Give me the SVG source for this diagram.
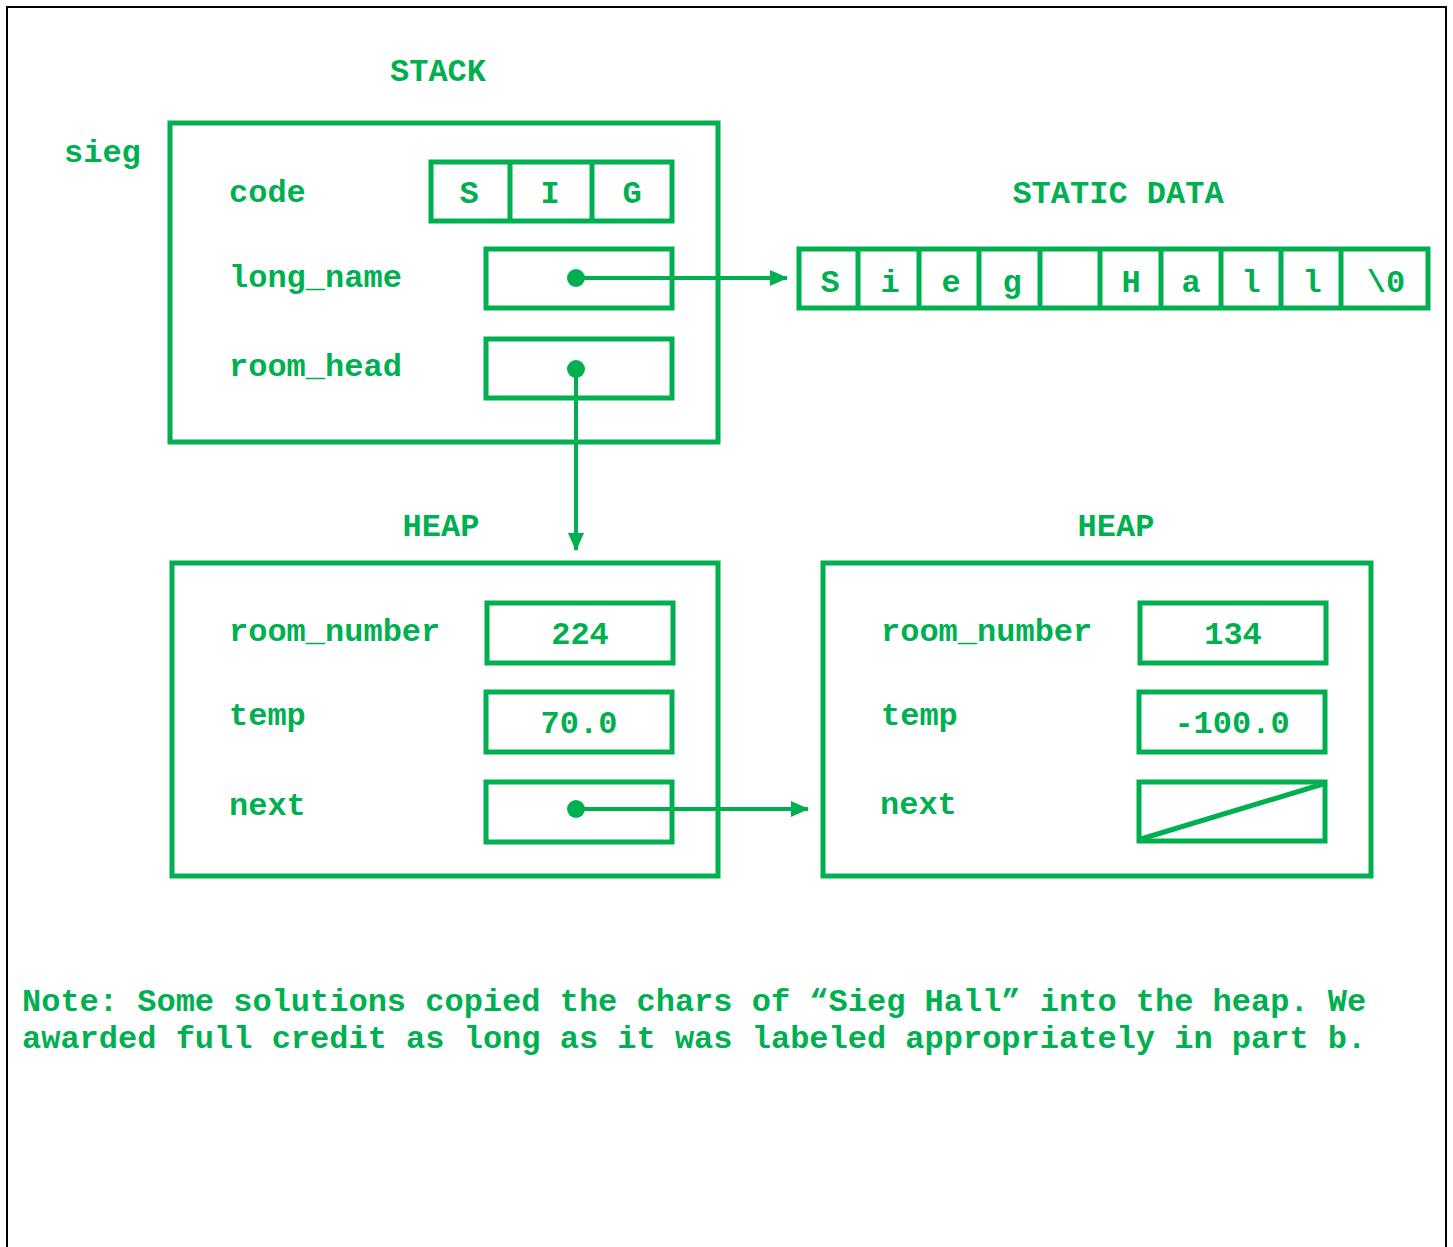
<svg xmlns="http://www.w3.org/2000/svg" width="1453" height="1247" viewBox="0 0 1453 1247">
<style>
text{font-family:"Liberation Mono","Courier New",monospace;font-weight:bold;font-size:32px;fill:#00B050}
.c{text-anchor:middle}
.box{fill:none;stroke:#00B050;stroke-width:5}
.ln{fill:none;stroke:#00B050;stroke-width:4}
</style>
<defs>
<marker id="ah" markerWidth="18" markerHeight="16" refX="17" refY="8" orient="auto" markerUnits="userSpaceOnUse">
<path d="M0,0 L18,8 L0,16 Z" fill="#00B050"/>
</marker>
</defs>
<rect x="0" y="0" width="1453" height="1247" fill="#fff"/>
<rect x="7" y="7" width="1439" height="1260" fill="none" stroke="#000" stroke-width="2"/>

<text class="c" x="438" y="81">STACK</text>
<text x="64" y="162">sieg</text>
<text class="c" x="1118" y="203">STATIC DATA</text>
<text class="c" x="441" y="536">HEAP</text>
<text class="c" x="1116" y="536">HEAP</text>

<g id="stack">
<rect class="box" x="170" y="123" width="548" height="319"/>
<text x="229" y="202">code</text>
<text x="229" y="287">long_name</text>
<text x="229" y="376">room_head</text>
</g>
<g id="code">
<rect class="box" x="431" y="162" width="241" height="59"/>
<line class="box" x1="510" y1="162" x2="510" y2="221"/>
<line class="box" x1="592" y1="162" x2="592" y2="221"/>
<text class="c" x="469" y="203">S</text>
<text class="c" x="550" y="203">I</text>
<text class="c" x="632" y="203">G</text>
</g>
<g id="long_name">
<rect class="box" x="486" y="249" width="186" height="59"/>
</g>
<g id="room_head">
<rect class="box" x="486" y="339" width="186" height="59"/>
</g>
<g id="static">
<rect class="box" x="799" y="249" width="629" height="59"/>
<g class="box">
<line x1="858" y1="249" x2="858" y2="308"/>
<line x1="919" y1="249" x2="919" y2="308"/>
<line x1="979" y1="249" x2="979" y2="308"/>
<line x1="1040" y1="249" x2="1040" y2="308"/>
<line x1="1100" y1="249" x2="1100" y2="308"/>
<line x1="1161" y1="249" x2="1161" y2="308"/>
<line x1="1221" y1="249" x2="1221" y2="308"/>
<line x1="1281" y1="249" x2="1281" y2="308"/>
<line x1="1341" y1="249" x2="1341" y2="308"/>
</g>
<text class="c" x="830" y="292">S</text>
<text class="c" x="890" y="292">i</text>
<text class="c" x="951" y="292">e</text>
<text class="c" x="1012" y="292">g</text>
<text class="c" x="1131" y="292">H</text>
<text class="c" x="1191" y="292">a</text>
<text class="c" x="1251" y="292">l</text>
<text class="c" x="1312" y="292">l</text>
<text class="c" x="1386" y="292">\0</text>
</g>

<g id="heap1">
<rect class="box" x="172" y="563" width="546" height="313"/>
<text x="229" y="641">room_number</text>
<rect class="box" x="487" y="603" width="186" height="60"/>
<text class="c" x="580" y="644">224</text>
<text x="229" y="725">temp</text>
<rect class="box" x="486" y="692" width="186" height="60"/>
<text class="c" x="579" y="733">70.0</text>
<text x="229" y="815">next</text>
<rect class="box" x="486" y="782" width="186" height="60"/>
</g>
<g id="heap2">
<rect class="box" x="823" y="563" width="548" height="313"/>
<text x="881" y="641">room_number</text>
<rect class="box" x="1140" y="603" width="186" height="60"/>
<text class="c" x="1233" y="644">134</text>
<text x="881" y="725">temp</text>
<rect class="box" x="1139" y="692" width="186" height="60"/>
<text class="c" x="1232" y="733">-100.0</text>
<text x="880" y="814">next</text>
<rect class="box" x="1139" y="782" width="186" height="59"/>
<line class="box" x1="1141" y1="839" x2="1323" y2="784"/>
</g>

<g id="connectors">
<circle cx="576" cy="278" r="9" fill="#00B050"/>
<line class="ln" x1="576" y1="278" x2="787" y2="278" marker-end="url(#ah)"/>
<circle cx="576" cy="369" r="9" fill="#00B050"/>
<line class="ln" x1="576" y1="369" x2="576" y2="550" marker-end="url(#ah)"/>
<circle cx="576" cy="809" r="9" fill="#00B050"/>
<line class="ln" x1="576" y1="809" x2="808" y2="809" marker-end="url(#ah)"/>
</g>

<text x="22" y="1011">Note: Some solutions copied the chars of “Sieg Hall” into the heap. We</text>
<text x="22" y="1048">awarded full credit as long as it was labeled appropriately in part b.</text>
</svg>
